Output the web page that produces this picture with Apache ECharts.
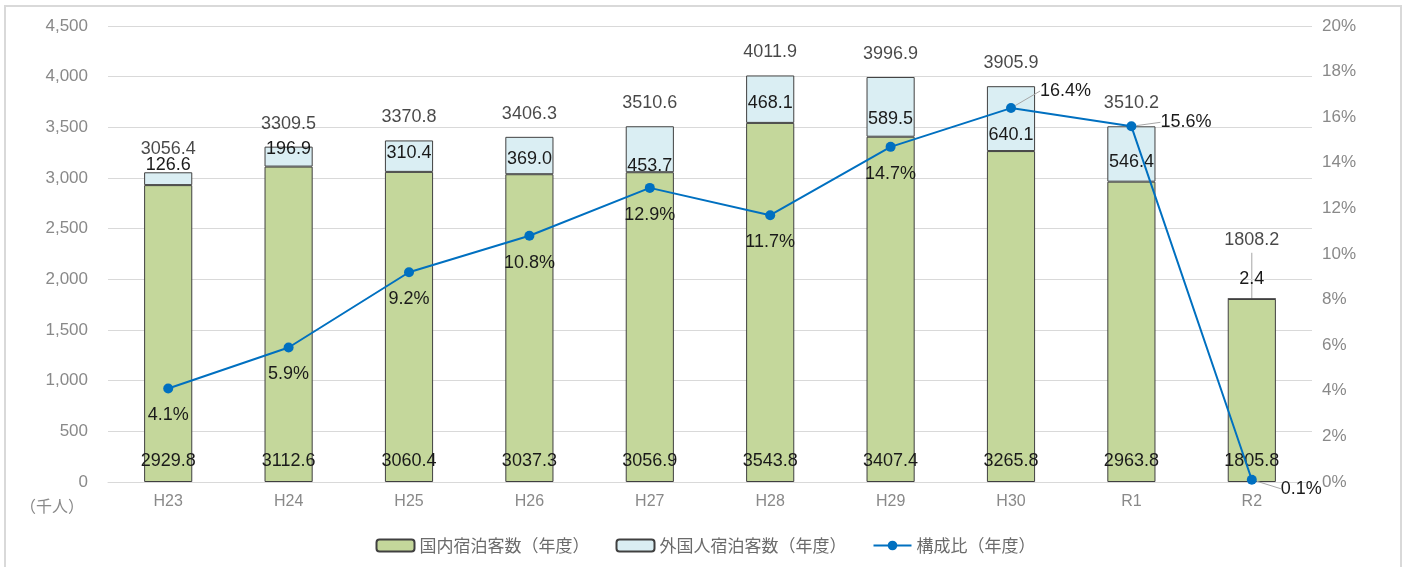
<!DOCTYPE html>
<html>
<head>
<meta charset="utf-8">
<script src="https://cdn.jsdelivr.net/npm/echarts@6/dist/echarts.min.js"></script>
<style>
  html, body { margin: 0; padding: 0; background: #fff; }
  #main { width: 1411px; height: 567px; }
</style>
</head>
<body>
<div id="main"></div>
<script>
const categories = ["H23", "H24", "H25", "H26", "H27", "H28", "H29", "H30", "R1", "R2"]
const domestic = [2929.8, 3112.6, 3060.4, 3037.3, 3056.9, 3543.8, 3407.4, 3265.8, 2963.8, 1805.8]
const foreign = [126.6, 196.9, 310.4, 369.0, 453.7, 468.1, 589.5, 640.1, 546.4, 2.4]
const totals = [3056.4, 3309.5, 3370.8, 3406.3, 3510.6, 4011.9, 3996.9, 3905.9, 3510.2, 1808.2]
const ratio = [4.1, 5.9, 9.2, 10.8, 12.9, 11.7, 14.7, 16.4, 15.6, 0.1]

const names = ["国内宿泊客数（年度）", "外国人宿泊客数（年度）", "構成比（年度）"]

const main = document.getElementById("main")
const myChart = echarts.init(main)

const labelFont = "Liberation Sans"
const cjk = "Noto Sans CJK JP"
const leader = { show: true, lineStyle: { color: "#a6a6a6", width: 1 } }
const last = categories.length - 1

// 外国人ラベルの位置調整
const foreignLabelDy = [-14, -8, -3, 4, 17, 4, 12, 16, 8, 0]
const foreignData = foreign.map((v, i) => {
  const item = { value: v }
  if (i === last) {
    item.label = { position: "top", distance: 10 }
  } else {
    item.label = { position: "inside", offset: [0, foreignLabelDy[i]] }
  }
  return item
})

// 構成比ラベル（右側に引き出すもの）
const ratioMoved = { 7: [24, -17], 8: [24, -4], 9: [24, 9] }
const ratioData = ratio.map((v, i) => {
  const item = { value: v }
  if (ratioMoved[i]) {
    item.label = { position: "right", distance: 0 }
    item.labelLine = leader
  }
  return item
})

const totalData = totals.map((v, i) => {
  const item = { value: v }
  if (i === last) item.label = { distance: 50 }
  return item
})

myChart.setOption({
  animation: false,
  graphic: [
    {
      id: "frame",
      type: "rect",
      shape: { x: 5, y: 6, width: 1396, height: 580 },
      style: { fill: "none", stroke: "#d9d9d9", lineWidth: 2 }
    },
    {
      id: "unit",
      type: "text",
      left: 20,
      top: 498,
      style: { text: "（千人）", fill: "#898989", font: "16px 'Noto Sans CJK JP'" }
    }
  ],
  legend: {
    data: names,
    bottom: 8,
    left: "center",
    itemGap: 26,
    itemWidth: 38,
    itemHeight: 12,
    textStyle: { color: "#6b6b6b", fontSize: 17, fontFamily: cjk }
  },
  grid: { left: 108, right: 99, top: 26, bottom: 85 },
  xAxis: {
    type: "category",
    data: categories,
    axisLine: { lineStyle: { color: "#d9d9d9" } },
    axisTick: { show: false },
    axisLabel: { color: "#898989", fontSize: 16, fontFamily: labelFont, margin: 12 }
  },
  yAxis: [
    {
      type: "value",
      min: 0,
      max: 4500,
      interval: 500,
      axisLine: { show: false },
      axisTick: { show: false },
      splitLine: { lineStyle: { color: "#d9d9d9" } },
      axisLabel: {
        color: "#898989", fontSize: 17, fontFamily: labelFont, margin: 20,
        formatter: (v) => v.toLocaleString("en-US")
      }
    },
    {
      type: "value",
      min: 0,
      max: 20,
      interval: 2,
      axisLine: { show: false },
      axisTick: { show: false },
      splitLine: { show: false },
      axisLabel: { color: "#898989", fontSize: 17, fontFamily: labelFont, margin: 10, formatter: "{value}%" }
    }
  ],
  series: [
    {
      name: names[0],
      type: "bar",
      stack: "total",
      barWidth: "40%",
      data: domestic,
      itemStyle: { color: "#C4D79B", borderColor: "#404040", borderWidth: 1 },
      label: {
        show: true,
        position: "insideBottom",
        distance: 12,
        color: "#1a1a1a",
        fontSize: 18,
        fontFamily: labelFont,
        formatter: (p) => p.value.toFixed(1)
      }
    },
    {
      name: names[1],
      type: "bar",
      stack: "total",
      data: foreignData,
      itemStyle: { color: "#DAEEF3", borderColor: "#404040", borderWidth: 1 },
      label: {
        show: true,
        color: "#1a1a1a",
        fontSize: 18,
        fontFamily: labelFont,
        formatter: (p) => p.value.toFixed(1)
      }
    },
    {
      name: "合計",
      type: "scatter",
      data: totalData,
      symbolSize: 0,
      silent: true,
      label: {
        show: true,
        position: "top",
        distance: 14,
        color: "#1a1a1a",
        fontSize: 18,
        fontFamily: labelFont,
        formatter: (p) => p.value.toFixed(1)
      }
    },
    {
      name: names[2],
      type: "line",
      yAxisIndex: 1,
      data: ratioData,
      symbol: "circle",
      symbolSize: 10,
      lineStyle: { color: "#0070C0", width: 2 },
      itemStyle: { color: "#0070C0" },
      z: 5,
      label: {
        show: true,
        position: "bottom",
        distance: 13,
        color: "#1a1a1a",
        fontSize: 18,
        fontFamily: labelFont,
        formatter: (p) => p.value.toFixed(1) + "%"
      },
      labelLayout: (p) => {
        const m = ratioMoved[p.dataIndex]
        return m ? { dx: m[0], dy: m[1] } : {}
      }
    }
  ]
})

// R2 合計ラベルの引き出し線（棒の上端からラベル下まで）
const r2Top = myChart.convertToPixel({ seriesIndex: 0 }, [last, totals[last]])
myChart.setOption({
  graphic: [
    {
      id: "r2leader",
      type: "line",
      shape: { x1: r2Top[0], y1: r2Top[1] - 46, x2: r2Top[0], y2: r2Top[1] },
      style: { stroke: "#a6a6a6", lineWidth: 1 }
    }
  ]
})
</script>
</body>
</html>
